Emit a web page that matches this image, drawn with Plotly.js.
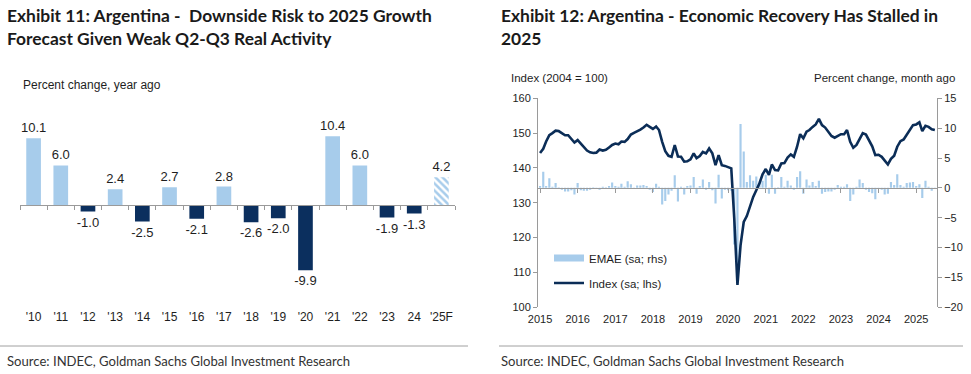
<!DOCTYPE html>
<html>
<head>
<meta charset="utf-8">
<script src="https://cdn.plot.ly/plotly-3.0.1.min.js"></script>
<style>
html,body{margin:0;padding:0;background:#fff;}
#chart{width:971px;height:374px;}
</style>
</head>
<body>
<div id="chart"></div>
<script>
// ---------- Exhibit 11 data ----------
const years = ["'10","'11","'12","'13","'14","'15","'16","'17","'18","'19","'20","'21","'22","'23","24","'25F"];
const growth = [10.1, 6.0, -1.0, 2.4, -2.5, 2.7, -2.1, 2.8, -2.6, -2.0, -9.9, 10.4, 6.0, -1.9, -1.3, 4.2];
const forecastFlag = [0,0,0,0,0,0,0,0,0,0,0,0,0,0,0,1];

// ---------- Exhibit 12 data (monthly, Jan 2015 onward) ----------
const firstMonth = [2015, 1];
const indexLevel = [
 144.3,145.5,147.6,149.4,150.0,150.7,150.6,150.1,149.4,149.4,148.3,147.3,
 148.0,147.0,145.8,145.0,144.5,144.3,144.4,145.3,145.0,145.2,145.9,146.6,
 147.0,146.8,147.6,147.5,148.3,149.6,150.1,150.5,151.0,151.6,152.4,151.8,
 151.2,151.9,150.9,147.5,144.8,143.5,143.2,146.6,143.3,143.2,141.8,141.9,
 142.5,144.2,142.8,143.4,144.6,144.2,145.6,144.2,140.8,143.7,140.8,140.6,
 140.3,139.9,125.5,106.4,117.8,124.5,126.2,129.3,131.7,133.6,135.6,138.2,
 139.7,138.0,141.0,139.4,139.3,141.3,141.4,143.0,143.9,143.2,146.1,149.7,
 148.5,150.4,150.9,151.8,152.5,154.1,152.3,151.6,150.4,149.2,148.7,149.2,
 149.7,149.7,150.9,147.5,145.8,146.6,148.3,150.0,149.6,148.0,146.2,143.7,
 143.8,143.2,142.2,141.0,142.6,143.5,146.1,147.7,148.2,149.6,150.9,152.3,
 152.5,153.1,150.6,152.1,151.8,151.1,150.9
];
const emae = [
 0.3,2.7,0.3,1.6,0.2,0.8,0.1,-0.3,-0.6,-0.6,-0.4,-1.1,
 0.8,-0.4,-0.5,-0.5,-0.3,0.1,-0.1,-0.3,0.2,0.1,0.3,0.9,
 0.3,0.2,0.7,0.2,1.1,0.6,-0.2,0.4,0.4,0.5,0.3,-0.3,
 -0.7,0.7,0.2,-2.8,-2.2,-1.1,-0.5,2.1,-2.3,0.2,-1.1,0.3,
 0.4,1.8,-1.0,0.3,1.4,-0.3,1.0,-0.4,-2.6,2.2,-1.8,-0.3,
 -0.4,-0.5,-9.5,-15.8,10.7,6.1,1.0,2.1,1.2,1.9,1.0,1.2,
 2.2,-1.0,2.2,-1.0,0.1,1.8,0.2,1.2,0.4,-0.3,1.8,2.8,
 -1.0,1.4,0.4,1.0,0.3,1.2,-1.0,-0.7,-0.6,-0.6,-0.3,0.5,
 0.2,0.2,0.6,-2.2,-1.1,0.2,1.4,0.8,-0.3,-0.7,-0.9,-1.9,
 -0.2,-0.3,-1.1,-1.0,1.0,0.5,2.3,0.5,0.2,0.8,0.9,1.0,
 0.3,0.6,-1.7,1.2,0.2,-0.5,-0.1
];

// month dates
const months = emae.map((_, i) => {
  const t = (firstMonth[0]) * 12 + (firstMonth[1] - 1) + i;
  const y = Math.floor(t / 12), m = t % 12 + 1;
  return y + '-' + String(m).padStart(2, '0') + '-01';
});

// ---------- styling ----------
const W = 971, H = 374;
const X = px => px / W;
const Y = px => 1 - px / H;
const LIGHT = '#a7cceb';
const DARK = '#0b2f5e';
const LINE = '#0b2d57';
const AX = '#9a9a9a';
const TXT = '#1e1e1e';
const FONT = 'Liberation Sans, Arial, sans-serif';
const TFONT = 'Lato, Open Sans, sans-serif';
const DAY = 86400000;

// left chart geometry
const leftRange = [-11, 12.5];
const leftZeroPx = 205, leftPxPerUnit = 6.6;
const leftTopPx = leftZeroPx - leftRange[1] * leftPxPerUnit;
const leftBotPx = leftZeroPx - leftRange[0] * leftPxPerUnit;

// right chart geometry
const rTop = 98.3, rBot = 307.3;
const rRange = [-20, 15], lRange = [100, 160];
const rZeroPx = rBot - (0 - rRange[0]) / (rRange[1] - rRange[0]) * (rBot - rTop);

const barColors = growth.map(v => v >= 0 ? LIGHT : DARK);
const patShapes = forecastFlag.map(f => f ? '\\' : '');

const traces = [
  {
    type: 'bar', x: years, y: growth, xaxis: 'x', yaxis: 'y',
    marker: {color: barColors, line: {width: 0},
             pattern: {shape: patShapes, fillmode: 'replace', bgcolor: '#ffffff', size: 5, solidity: 0.5}},
    text: growth.map(v => v.toFixed(1)), textposition: 'outside', cliponaxis: false, constraintext: 'none',
    textfont: {family: FONT, size: 13, color: TXT},
    showlegend: false, hoverinfo: 'skip'
  },
  {
    type: 'bar', x: months, y: emae, xaxis: 'x2', yaxis: 'y2', width: 21 * DAY,
    marker: {color: LIGHT, line: {width: 0}}, showlegend: false, hoverinfo: 'skip'
  },
  {
    type: 'scatter', mode: 'lines', x: [null], y: [null], xaxis: 'x2', yaxis: 'y2',
    name: 'EMAE (sa; rhs)', line: {color: LIGHT, width: 7}, legend: 'legend', hoverinfo: 'skip'
  },
  {
    type: 'scatter', mode: 'lines', x: months, y: indexLevel, xaxis: 'x2', yaxis: 'y3',
    name: 'Index (sa; lhs)', line: {color: LINE, width: 2.6}, legend: 'legend2', hoverinfo: 'skip'
  }
];

const layout = {
  width: W, height: H,
  margin: {l: 0, r: 0, t: 0, b: 0},
  paper_bgcolor: '#fff', plot_bgcolor: 'rgba(0,0,0,0)',
  font: {family: FONT, color: TXT},
  bargap: 0.46,
  xaxis: {
    domain: [X(20), X(455)], type: 'category', anchor: 'free', position: Y(leftZeroPx),
    showline: true, linecolor: AX, linewidth: 1, ticks: 'outside', tickson: 'boundaries',
    ticklen: 4, tickcolor: AX, showgrid: false, zeroline: false, tickangle: 0,
    tickfont: {family: FONT, size: 12, color: TXT}, ticklabelstandoff: 101, fixedrange: true
  },
  yaxis: {
    domain: [Y(leftBotPx), Y(leftTopPx)], range: leftRange, anchor: 'x',
    visible: false, showgrid: false, zeroline: false
  },
  xaxis2: {
    domain: [X(538), X(937)], type: 'date', range: ['2014-12-12', '2025-07-22'],
    anchor: 'free', position: Y(rZeroPx),
    showline: true, linecolor: AX, linewidth: 1, ticks: 'outside', ticklen: 4, tickcolor: AX,
    tick0: '2015-01-01', dtick: 'M12', tickformat: '%Y', showgrid: false, zeroline: false, tickangle: 0,
    tickfont: {family: FONT, size: 11, color: TXT}, ticklabelstandoff: 117
  },
  yaxis2: {
    domain: [Y(rBot), Y(rTop)], range: rRange, anchor: 'x2', side: 'right',
    showline: true, linecolor: AX, linewidth: 1, ticks: 'outside', ticklen: 4, tickcolor: AX,
    dtick: 5, showgrid: false, zeroline: false, tickfont: {family: FONT, size: 11, color: TXT}
  },
  yaxis3: {
    overlaying: 'y2', range: lRange, anchor: 'x2', side: 'left',
    showline: true, linecolor: AX, linewidth: 1, ticks: 'outside', ticklen: 4, tickcolor: AX,
    dtick: 10, showgrid: false, zeroline: false, tickfont: {family: FONT, size: 11, color: TXT}
  },
  legend: {
    x: X(549), y: Y(258), xanchor: 'left', yanchor: 'middle', bgcolor: 'rgba(0,0,0,0)',
    font: {family: FONT, size: 11.5, color: TXT}, itemclick: false
  },
  legend2: {
    x: X(549), y: Y(283), xanchor: 'left', yanchor: 'middle', bgcolor: 'rgba(0,0,0,0)',
    font: {family: FONT, size: 11.5, color: TXT}, itemclick: false
  },
  annotations: [
    {xref: 'paper', yref: 'paper', x: X(5), y: Y(3), xanchor: 'left', yanchor: 'top', align: 'left',
     showarrow: false, text: 'Exhibit 11: Argentina -  Downside Risk to 2025 Growth<br>Forecast Given Weak Q2-Q3 Real Activity',
     font: {family: TFONT, size: 17.4, weight: 700, color: '#1a1a1a'}},
    {xref: 'paper', yref: 'paper', x: X(499), y: Y(3), xanchor: 'left', yanchor: 'top', align: 'left',
     showarrow: false, text: 'Exhibit 12: Argentina - Economic Recovery Has Stalled in<br>2025',
     font: {family: TFONT, size: 17.4, weight: 700, color: '#1a1a1a'}},
    {xref: 'paper', yref: 'paper', x: X(21), y: Y(85), xanchor: 'left', yanchor: 'middle',
     showarrow: false, text: 'Percent change, year ago', font: {family: FONT, size: 12, color: TXT}},
    {xref: 'paper', yref: 'paper', x: X(509), y: Y(78), xanchor: 'left', yanchor: 'middle',
     showarrow: false, text: 'Index (2004 = 100)', font: {family: FONT, size: 11.5, color: TXT}},
    {xref: 'paper', yref: 'paper', x: X(957), y: Y(78), xanchor: 'right', yanchor: 'middle',
     showarrow: false, text: 'Percent change, month ago', font: {family: FONT, size: 11.5, color: TXT}},
    {xref: 'paper', yref: 'paper', x: X(5), y: Y(361), xanchor: 'left', yanchor: 'middle',
     showarrow: false, text: 'Source: INDEC, Goldman Sachs Global Investment Research',
     font: {family: TFONT, size: 13.1, color: '#333'}},
    {xref: 'paper', yref: 'paper', x: X(499), y: Y(361), xanchor: 'left', yanchor: 'middle',
     showarrow: false, text: 'Source: INDEC, Goldman Sachs Global Investment Research',
     font: {family: TFONT, size: 13.1, color: '#333'}}
  ],
  shapes: [
    {type: 'line', xref: 'paper', yref: 'paper', x0: 0, x1: X(468), y0: Y(346), y1: Y(346),
     line: {color: '#a0a0a0', width: 1}},
    {type: 'line', xref: 'paper', yref: 'paper', x0: X(499), x1: X(963), y0: Y(346), y1: Y(346),
     line: {color: '#a0a0a0', width: 1}}
  ]
};

Plotly.newPlot('chart', traces, layout, {staticPlot: true, displayModeBar: false});
</script>
</body>
</html>
